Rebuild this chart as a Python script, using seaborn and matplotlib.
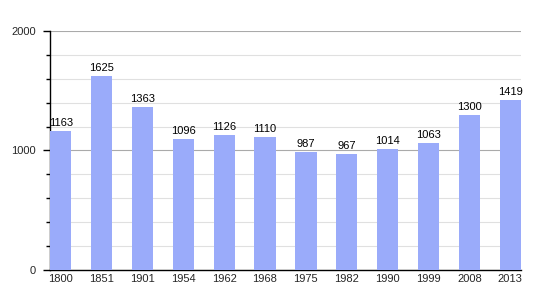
import matplotlib
matplotlib.use("Agg")
import matplotlib.pyplot as plt
import seaborn as sns
import pandas as pd
from matplotlib.ticker import MultipleLocator

years = ["1800", "1851", "1901", "1954", "1962", "1968", "1975", "1982", "1990", "1999", "2008", "2013"]
population = [1163, 1625, 1363, 1096, 1126, 1110, 987, 967, 1014, 1063, 1300, 1419]

df = pd.DataFrame({"year": years, "pop": population})

sns.set_style("white")
plt.rcParams['font.family'] = ['Liberation Sans', 'DejaVu Sans']

fig = plt.figure(figsize=(5.5, 3), dpi=100)
ax = fig.add_axes([0.091, 0.1, 0.856, 0.797])

sns.barplot(data=df, x="year", y="pop", color="#9aabfa", width=0.52, saturation=1,
            linewidth=0, edgecolor="none", ax=ax, zorder=3)

ax.set_ylim(0, 2000)
ax.set_xlim(-0.26, 11.26)
ax.yaxis.set_major_locator(MultipleLocator(1000))
ax.yaxis.set_minor_locator(MultipleLocator(200))
ax.grid(which="major", axis="y", color="#aaaaaa", linewidth=0.8, zorder=0)
ax.grid(which="minor", axis="y", color="#e0e0e0", linewidth=0.8, zorder=0)
ax.set_axisbelow(True)

for s in ["top", "right"]:
    ax.spines[s].set_visible(False)
for s in ["left", "bottom"]:
    ax.spines[s].set_color("black")
    ax.spines[s].set_linewidth(1)

ax.tick_params(axis="y", which="major", length=5, width=1, color="black", labelsize=8, pad=5, left=True)
ax.tick_params(axis="y", which="minor", length=3, width=1, color="black", left=True)
ax.tick_params(axis="x", length=0, labelsize=8, pad=3)
ax.set_xlabel("")
ax.set_ylabel("")

for i, v in enumerate(population):
    ax.text(i, v + 25, str(v), ha="center", va="bottom", fontsize=8, color="black")

fig.savefig("out.png", dpi=100)
